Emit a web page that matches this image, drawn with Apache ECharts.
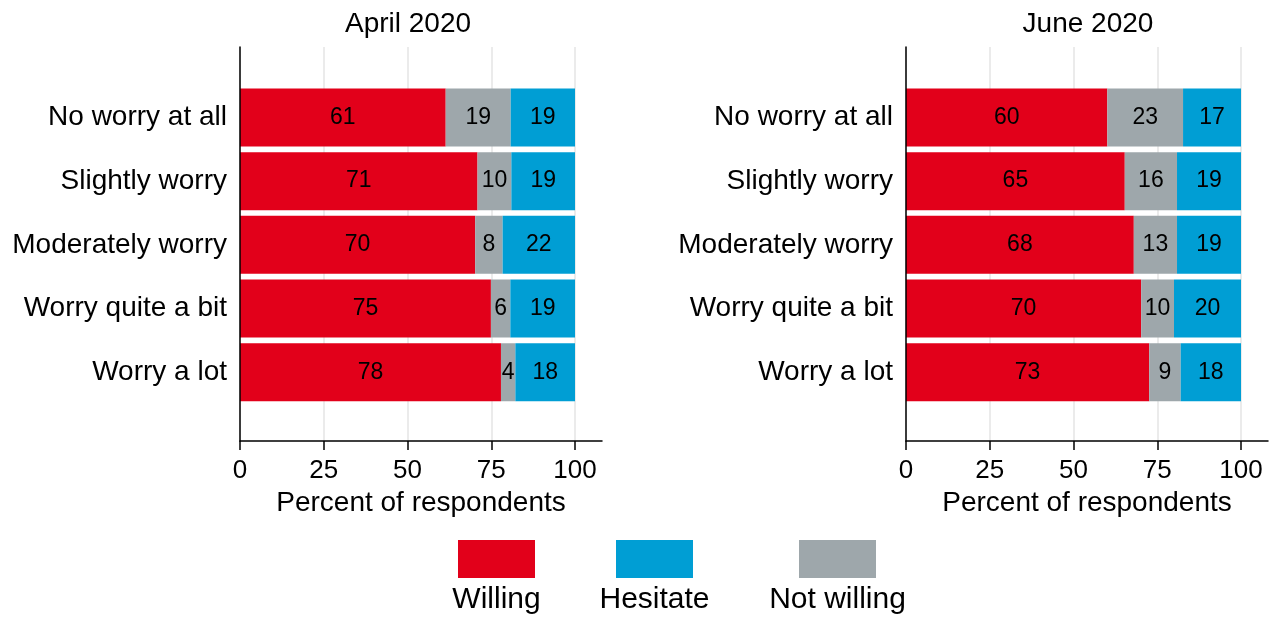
<!DOCTYPE html>
<html>
<head>
<meta charset="utf-8">
<script src="https://cdn.jsdelivr.net/npm/echarts@6/dist/echarts.min.js"></script>
<style>
  html, body { margin: 0; padding: 0; background: #fff; }
  #chartData { width: 1274px; height: 617px; }
</style>
</head>
<body>
<div id="chartData"></div>
<script>
// categories, top to bottom
var categories = ['No worry at all', 'Slightly worry', 'Moderately worry', 'Worry quite a bit', 'Worry a lot'];
var panelTitles = ['April 2020', 'June 2020'];
var seriesNames = ['Willing', 'Not willing', 'Hesitate'];
var legendOrder = ['Willing', 'Hesitate', 'Not willing'];

// April 2020 (percent)
var aprWilling = [61.4, 70.9, 70.2, 74.9, 77.9];
var aprNotWilling = [19.4, 10.1, 8.2, 5.8, 4.3];
var aprHesitate = [19.2, 19.0, 21.6, 19.3, 17.8];

// June 2020 (percent)
var junWilling = [60.1, 65.3, 68.0, 70.2, 72.6];
var junNotWilling = [22.6, 15.6, 12.9, 9.8, 9.4];
var junHesitate = [17.3, 19.1, 19.1, 20.0, 18.0];

var colors = {'Willing': '#e2001a', 'Not willing': '#9ea7ab', 'Hesitate': '#009ed4'};
var font = '"Liberation Sans", Arial, sans-serif';

var myChart = echarts.init(document.getElementById('chartData'));

var panelLeft = [240, 906];
var plotW = 335;      // 0..100
var frameW = 362;     // axis line runs a bit past 100
var frameMax = 100 * frameW / plotW;

var grids = [], xAxes = [], yAxes = [], series = [];
var panelData = [
    [aprWilling, aprNotWilling, aprHesitate],
    [junWilling, junNotWilling, junHesitate]
];

for (var p = 0; p < 2; p++) {
    var g = p * 3;
    // 0: frame (axis lines + axis name)
    grids.push({left: panelLeft[p], top: 47, width: frameW, height: 394, outerBoundsMode: 'none'});
    // 1: ticks, labels, grid lines for 0..100
    grids.push({left: panelLeft[p], top: 47, width: plotW, height: 394, outerBoundsMode: 'none'});
    // 2: category bands with the bars
    grids.push({left: panelLeft[p], top: 85.6, width: plotW, height: 318.5, outerBoundsMode: 'none'});

    xAxes.push({
        type: 'value', gridIndex: g, min: 0, max: frameMax, z: 5,
        name: 'Percent of respondents', nameLocation: 'middle', nameGap: 48,
        nameTextStyle: {fontFamily: font, fontSize: 28, color: '#000'},
        axisLine: {lineStyle: {color: '#000', width: 1.5}},
        axisTick: {show: false}, axisLabel: {show: false}, splitLine: {show: false}
    });
    xAxes.push({
        type: 'value', gridIndex: g + 1, min: 0, max: 100, interval: 25,
        axisLine: {show: false},
        axisTick: {show: true, length: 9, lineStyle: {color: '#000', width: 1.5}},
        axisLabel: {margin: 17, fontFamily: font, fontSize: 26, color: '#000'},
        splitLine: {show: true, lineStyle: {color: '#e4e4e4', width: 1.5}}
    });
    xAxes.push({type: 'value', gridIndex: g + 2, min: 0, max: 100, show: false});

    yAxes.push({
        type: 'value', gridIndex: g, min: 0, max: 1, z: 5,
        axisLine: {show: true, lineStyle: {color: '#000', width: 1.5}},
        axisTick: {show: false}, axisLabel: {show: false}, splitLine: {show: false}
    });
    yAxes.push({type: 'value', gridIndex: g + 1, min: 0, max: 1, show: false});
    yAxes.push({
        type: 'category', gridIndex: g + 2, data: categories, inverse: true,
        axisLine: {show: false}, axisTick: {show: false},
        axisLabel: {margin: 13, fontFamily: font, fontSize: 28, color: '#000'}
    });

    for (var s = 0; s < seriesNames.length; s++) {
        series.push({
            name: seriesNames[s],
            type: 'bar',
            stack: 'panel' + p,
            xAxisIndex: g + 2,
            yAxisIndex: g + 2,
            barWidth: 58,
            itemStyle: {color: colors[seriesNames[s]]},
            label: {
                show: true, position: 'inside', color: '#000',
                fontFamily: font, fontSize: 23,
                formatter: function (d) { return Math.round(d.value); }
            },
            emphasis: {disabled: true},
            data: panelData[p][s]
        });
    }
}

// titles and legend (rectangle above, label below)
var graphics = [
    {type: 'text', x: 408, y: 24, style: {text: panelTitles[0], font: '28px ' + font, fill: '#000', textAlign: 'center', textVerticalAlign: 'middle'}},
    {type: 'text', x: 1088, y: 24, style: {text: panelTitles[1], font: '28px ' + font, fill: '#000', textAlign: 'center', textVerticalAlign: 'middle'}}
];
var legendX = [458, 616, 799];
for (var i = 0; i < legendOrder.length; i++) {
    graphics.push({type: 'rect', shape: {x: legendX[i], y: 540, width: 77, height: 38}, style: {fill: colors[legendOrder[i]]}});
    graphics.push({type: 'text', x: legendX[i] + 38.5, y: 600, style: {text: legendOrder[i], font: '30px ' + font, fill: '#000', textAlign: 'center', textVerticalAlign: 'middle'}});
}

var option = {
    animation: false,
    backgroundColor: '#fff',
    grid: grids,
    xAxis: xAxes,
    yAxis: yAxes,
    series: series,
    graphic: graphics
};

myChart.setOption(option);
</script>
</body>
</html>
